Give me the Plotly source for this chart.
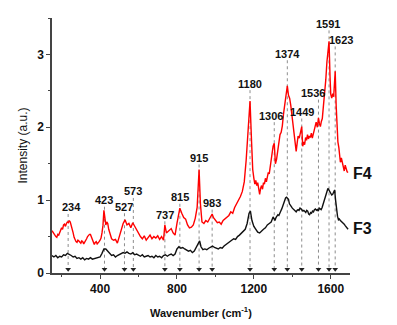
import plotly.graph_objects as go

# ---- data ----
f4_x = [150,155,160,165,170,175,180,185,190,195,200,205,210,215,220,225,230,235,240,245,
        250,255,260,265,270,275,280,285,290,295,300,305,310,315,320,325,330,335,340,345,
        350,355,360,365,370,375,380,385,390,395,400,405,410,415,420,425,430,435,440,445,
        450,460,470,480,490,500,510,520,530,540,
        550,560,570,580,590,600,610,620,630,640,650,660,670,680,690,700,710,720,730,737,
        745,760,770,780,790,800,815,825,835,845,855,865,875,885,895,905,915,922,930,940,
        950,960,970,983,990,1000,1010,1020,1030,1040,1050,1060,1070,1080,1090,1100,1110,1120,1130,1140,
        1150,1160,1170,1180,1188,1194,1200,1205,1210,1215,1220,1225,1230,1235,1240,1245,1250,1255,1260,1265,
        1270,1275,1280,1285,1290,1295,1300,1306,1312,1318,1324,1330,1336,1342,1348,1354,1360,1366,1374,1380,
        1386,1392,1398,1404,1410,1415,1420,1425,1430,1436,1442,1449,1454,1459,1464,1469,1474,1479,1484,1489,
        1494,1499,1504,1509,1514,1519,1524,1530,1536,1541,1546,1551,1556,1562,1568,1574,1580,1586,1591,1596,
        1600,1605,1610,1615,1623,1628,1632,1637,1642,1646,1650,1655,1660,1665,1670,1675,1680,1685,1690]
f4_y = [0.58,0.56,0.53,0.51,0.50,0.49,0.53,0.52,0.56,0.58,0.62,0.60,0.66,0.67,0.64,0.68,0.70,0.69,0.72,0.70,
        0.66,0.60,0.55,0.49,0.45,0.43,0.42,0.45,0.44,0.42,0.41,0.44,0.43,0.40,0.42,0.44,0.47,0.50,0.52,0.53,
        0.53,0.49,0.44,0.40,0.39,0.42,0.43,0.40,0.41,0.43,0.45,0.48,0.55,0.65,0.86,0.72,0.66,0.70,0.68,0.60,
        0.55,0.47,0.45,0.46,0.41,0.50,0.60,0.68,0.73,0.66,
        0.68,0.62,0.69,0.64,0.58,0.55,0.50,0.47,0.51,0.45,0.49,0.52,0.47,0.50,0.48,0.51,0.46,0.50,0.45,0.66,
        0.55,0.58,0.61,0.55,0.52,0.68,0.89,0.82,0.76,0.74,0.66,0.62,0.63,0.66,0.75,0.90,1.42,0.95,0.70,0.68,
        0.72,0.70,0.75,0.81,0.76,0.72,0.69,0.70,0.67,0.72,0.74,0.76,0.79,0.84,0.82,0.90,0.95,0.98,1.05,1.12,
        1.25,1.55,1.90,2.36,1.80,1.42,1.30,1.22,1.27,1.20,1.24,1.12,1.08,1.16,1.20,1.15,1.24,1.22,1.30,1.25,
        1.33,1.38,1.36,1.45,1.52,1.68,1.74,1.78,1.50,1.56,1.70,1.85,1.90,1.93,2.02,2.18,2.32,2.45,2.57,2.44,
        2.40,2.30,2.15,2.02,1.88,1.80,1.67,1.78,1.88,1.85,1.95,2.01,1.74,1.80,1.76,1.86,1.82,1.90,1.84,1.88,
        1.86,1.92,1.85,1.90,1.93,2.02,2.07,2.00,2.13,2.05,2.01,2.08,2.12,2.30,2.45,2.65,2.90,3.12,3.18,2.70,
        2.45,2.40,2.46,2.42,2.77,2.30,1.95,1.80,1.72,1.60,1.52,1.58,1.50,1.47,1.40,1.48,1.42,1.39,1.38]

f3_x = [150,160,170,180,190,200,210,220,230,240,250,260,270,280,290,300,310,320,330,340,
        350,360,370,380,390,400,410,420,430,440,450,460,470,480,490,500,510,520,530,540,
        550,560,570,580,590,600,610,620,630,640,650,660,670,680,690,700,710,720,730,740,
        750,760,770,780,790,800,810,820,830,840,850,860,870,880,890,900,910,918,925,935,
        945,955,965,975,985,995,1005,1015,1025,1035,1045,1055,1065,1075,1085,1095,1105,1115,1125,1135,
        1145,1155,1165,1175,1182,1190,1200,1210,1220,1230,1240,1250,1260,1270,1280,1290,
        1300,1305,1310,1315,1320,1325,1330,1335,1340,1345,1350,1355,1360,1365,1370,1375,1380,1385,1390,1395,
        1400,1405,1410,1415,1420,1425,1430,1435,1440,1445,1450,1455,1460,1465,1470,1475,1480,1485,1490,1495,
        1500,1505,1510,1515,1520,1525,1530,1535,1540,1545,1550,1555,1560,1565,1570,1575,1580,1585,1590,1595,
        1600,1605,1610,1615,1620,1625,1630,1635,1640,1645,1650,1655,1660,1665,1670,1675,1680,1685,1690]
f3_y = [0.24,0.22,0.24,0.21,0.23,0.22,0.25,0.24,0.27,0.26,0.24,0.22,0.23,0.20,0.21,0.19,0.21,0.18,0.20,0.19,
        0.21,0.19,0.20,0.21,0.22,0.22,0.27,0.33,0.33,0.30,0.27,0.24,0.25,0.22,0.24,0.25,0.26,0.28,0.27,0.29,
        0.27,0.26,0.28,0.25,0.26,0.24,0.23,0.25,0.22,0.23,0.24,0.22,0.23,0.21,0.24,0.22,0.23,0.21,0.24,0.25,
        0.23,0.25,0.26,0.24,0.26,0.33,0.36,0.34,0.35,0.33,0.31,0.30,0.31,0.28,0.30,0.35,0.42,0.44,0.36,0.32,
        0.33,0.32,0.34,0.35,0.37,0.35,0.34,0.33,0.35,0.34,0.37,0.39,0.41,0.43,0.44,0.47,0.46,0.50,0.52,0.55,
        0.57,0.60,0.68,0.82,0.85,0.72,0.64,0.60,0.56,0.55,0.58,0.60,0.62,0.66,0.68,0.70,
        0.77,0.74,0.72,0.76,0.78,0.80,0.79,0.84,0.85,0.88,0.92,0.97,1.00,1.03,1.04,1.03,1.01,0.95,0.92,0.91,
        0.89,0.88,0.86,0.85,0.84,0.86,0.87,0.86,0.89,0.88,0.87,0.85,0.86,0.84,0.83,0.86,0.85,0.81,0.80,0.83,
        0.82,0.85,0.84,0.87,0.88,0.86,0.87,0.85,0.89,0.88,0.87,0.90,0.95,0.99,1.04,1.10,1.15,1.16,1.14,1.12,
        1.10,1.07,1.08,1.12,1.14,1.00,0.85,0.78,0.73,0.74,0.72,0.71,0.70,0.68,0.67,0.65,0.63,0.61,0.60]

peaks = [234, 423, 527, 573, 737, 815, 915, 983, 1180, 1306, 1374, 1449, 1536, 1591, 1623]
peak_label_y = [0.90, 1.00, 0.91, 1.12, 0.80, 1.04, 1.58, 0.96, 2.60, 2.16, 3.01, 2.21, 2.47, 3.42, 3.20]
peak_label_shift = [3, 0, 0, 0, 0, 0, 0, 0, 0, -3, 0, 0, -5, -1, 6]

x_ticks = [400, 800, 1200, 1600]
y_ticks = [0, 1, 2, 3]

fig = go.Figure()

# dotted guide lines
gx, gy = [], []
for p, ly in zip(peaks, peak_label_y):
    gx += [p, p, None]
    gy += [ly - 0.09, 0.05, None]
fig.add_trace(go.Scatter(x=gx, y=gy, mode="lines",
                         line=dict(color="#808080", width=0.9, dash="dot"),
                         hoverinfo="skip", showlegend=False))

fig.add_trace(go.Scatter(x=f3_x, y=f3_y, mode="lines",
                         line=dict(color="#111111", width=1.4), showlegend=False))
fig.add_trace(go.Scatter(x=f4_x, y=f4_y, mode="lines",
                         line=dict(color="#ff0000", width=1.4), showlegend=False))

# arrowheads
fig.add_trace(go.Scatter(x=peaks, y=[0.05] * len(peaks), mode="markers",
                         marker=dict(symbol="triangle-down", size=5, color="#222222"),
                         hoverinfo="skip", showlegend=False, cliponaxis=False))

for p, ly, sh in zip(peaks, peak_label_y, peak_label_shift):
    fig.add_annotation(x=p, y=ly, text="<b>%d</b>" % p, showarrow=False,
                       xshift=sh, font=dict(size=11, color="#111111",
                                            family="Liberation Sans, Arial"))

fig.add_annotation(x=1700, y=1.37, xref="x", yref="y", text="<b>F4</b>", showarrow=False,
                   xanchor="left", xshift=1,
                   font=dict(size=16, color="#111111", family="Liberation Sans, Arial"))
fig.add_annotation(x=1700, y=0.61, xref="x", yref="y", text="<b>F3</b>", showarrow=False,
                   xanchor="left", xshift=1,
                   font=dict(size=16, color="#111111", family="Liberation Sans, Arial"))

# axis titles
fig.add_annotation(x=0.5, y=0, xref="paper", yref="paper", yshift=-39,
                   text="<b>Wavenumber (cm<sup>-1</sup>)</b>", showarrow=False,
                   yanchor="middle",
                   font=dict(size=11, color="#111111", family="Liberation Sans, Arial"))
fig.add_annotation(x=0, y=0.5, xref="paper", yref="paper", xshift=-30,
                   text="Intensity (a.u.)", showarrow=False, textangle=-90,
                   xanchor="center", yanchor="middle",
                   font=dict(size=12, color="#111111", family="Liberation Sans, Arial"))

axis_common = dict(showgrid=False, zeroline=False, showline=True, linecolor="#444444",
                   linewidth=1.5, ticks="outside", ticklen=4, tickwidth=1.2,
                   tickcolor="#444444",
                   tickfont=dict(size=12, color="#111111", family="Liberation Sans, Arial",
                                 weight="bold"))

fig.update_layout(
    width=397, height=325,
    margin=dict(l=52, r=47, t=18, b=52),
    paper_bgcolor="white", plot_bgcolor="white",
    xaxis=dict(range=[150, 1700], tickvals=x_ticks, ticktext=[str(v) for v in x_ticks],
               minor=dict(ticks="outside", ticklen=2, tickvals=[200, 600, 1000, 1400],
                          tickcolor="#444444"),
               **axis_common),
    yaxis=dict(range=[0, 3.5], tickvals=y_ticks, ticktext=[str(v) for v in y_ticks],
               minor=dict(ticks="outside", ticklen=2, tickvals=[0.5, 1.5, 2.5, 3.5],
                          tickcolor="#444444"),
               **axis_common),
)

fig.write_html("out.html")
